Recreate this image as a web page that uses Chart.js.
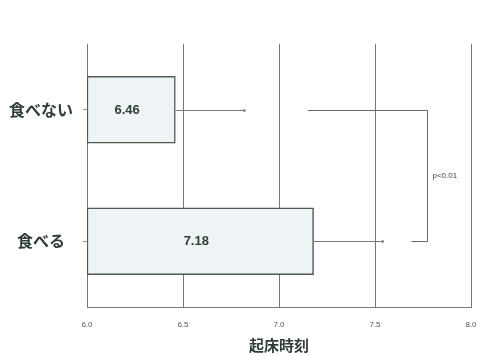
<!DOCTYPE html>
<html>
<head>
<meta charset="utf-8">
<script src="https://cdn.jsdelivr.net/npm/chart.js@4"></script>
<style>
  html, body { margin: 0; padding: 0; background: #fff; }
  #wrap { width: 479px; height: 356px; }
</style>
</head>
<body>
<div id="wrap"><canvas id="chart" width="479" height="356"></canvas></div>
<script>
const categories = ['食べない', '食べる'];
const meanValues = [6.46, 7.18];
const errorHigh = [6.82, 7.54];
const xTicks = [6.0, 6.5, 7.0, 7.5, 8.0];
const bracketStart = [7.15, 7.69];
const bracketX = 7.77;
const pLabel = 'p<0.01';
const axisTitle = '起床時刻';

const jpFont = '"Noto Sans CJK JP", sans-serif';
const ink = '#2e3d35';

// error bars, value labels and the significance bracket
const extras = {
    id: 'extras',
    afterDatasetsDraw(chart) {
        const { ctx, scales: { x, y } } = chart;
        ctx.save();
        ctx.strokeStyle = '#777';
        ctx.lineWidth = 1;
        meanValues.forEach((v, i) => {
            const cy = Math.round(y.getPixelForValue(i)) + 0.5;
            ctx.beginPath();
            ctx.moveTo(x.getPixelForValue(v), cy);
            ctx.lineTo(x.getPixelForValue(errorHigh[i]), cy);
            ctx.stroke();
            ctx.fillStyle = '#888';
            ctx.fillRect(x.getPixelForValue(errorHigh[i]) - 1, cy - 1.5, 2, 3);

            ctx.fillStyle = ink;
            ctx.font = 'bold 13px "Liberation Sans", Arial, sans-serif';
            ctx.textAlign = 'center';
            ctx.textBaseline = 'middle';
            const mid = (x.getPixelForValue(xTicks[0]) + x.getPixelForValue(v)) / 2;
            ctx.fillText(v.toFixed(2), mid - 4, cy);
        });

        const bx = Math.round(x.getPixelForValue(bracketX)) + 0.5;
        const y0 = Math.round(y.getPixelForValue(0)) + 0.5;
        const y1 = Math.round(y.getPixelForValue(1)) + 0.5;
        ctx.strokeStyle = '#666';
        ctx.beginPath();
        ctx.moveTo(x.getPixelForValue(bracketStart[0]), y0);
        ctx.lineTo(bx, y0);
        ctx.lineTo(bx, y1);
        ctx.lineTo(x.getPixelForValue(bracketStart[1]), y1);
        ctx.stroke();

        ctx.fillStyle = '#444';
        ctx.font = '8px "Liberation Sans", Arial, sans-serif';
        ctx.textAlign = 'left';
        ctx.fillText(pLabel, bx + 5, (y0 + y1) / 2);
        ctx.restore();
    }
};

new Chart(document.getElementById('chart'), {
    type: 'bar',
    data: {
        labels: categories,
        datasets: [{
            data: meanValues.map(v => [xTicks[0], v]),
            backgroundColor: '#eef4f5',
            borderColor: '#4f5a54',
            borderWidth: 1.5,
            borderSkipped: false,
            barThickness: 67
        }]
    },
    options: {
        indexAxis: 'y',
        responsive: false,
        animation: false,
        layout: { padding: { top: 44, right: 8, left: 0, bottom: 2 } },
        plugins: { legend: { display: false }, tooltip: { enabled: false } },
        scales: {
            x: {
                min: 6, max: 8,
                afterBuildTicks: (s) => { s.ticks = xTicks.map(v => ({ value: v })); },
                afterFit: (s) => { s.height = 47; s.paddingLeft = 0; s.paddingRight = 0; },
                ticks: {
                    callback: (v) => Number(v).toFixed(1),
                    font: { size: 8, family: '"Liberation Sans", Arial, sans-serif' },
                    color: '#555',
                    padding: 13,
                    maxRotation: 0
                },
                grid: { color: '#777', lineWidth: 1, drawTicks: false },
                border: { display: true, color: '#777' },
                title: {
                    display: true, text: axisTitle,
                    font: { size: 15, weight: 'bold', family: jpFont },
                    color: ink, padding: { top: 2, bottom: 0 }
                }
            },
            y: {
                afterFit: (s) => { s.width = 87; s.paddingTop = 0; s.paddingBottom = 0; },
                ticks: {
                    font: { size: 16, weight: 'bold', family: jpFont },
                    color: ink, padding: 10,
                    crossAlign: 'center'
                },
                grid: { drawOnChartArea: false, offset: false, tickLength: 4, color: '#999' },
                border: { display: true, color: '#777' }
            }
        }
    },
    plugins: [extras]
});
</script>
</body>
</html>
